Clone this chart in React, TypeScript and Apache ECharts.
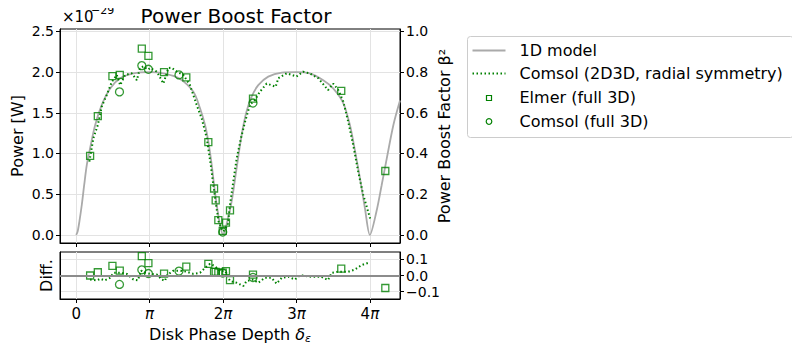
import React, { useEffect, useRef } from "react";
import * as echarts from "echarts";

// x values are in units of pi (Disk Phase Depth / pi); P in units of 1e-29 W
const model1dX = [0, 0.02, 0.045, 0.077, 0.109, 0.145, 0.19, 0.259, 0.35, 0.463, 0.6, 0.78, 1.0, 1.2, 1.4, 1.596, 1.687, 1.755, 1.8, 1.846, 1.878, 1.914, 1.96, 2.0, 2.04, 2.117, 2.185, 2.254, 2.32, 2.39, 2.48, 2.616, 2.8, 3.0, 3.18, 3.365, 3.5, 3.637, 3.728, 3.8, 3.864, 3.932, 4.0, 4.09, 4.16, 4.23, 4.32, 4.41];
const model1dP = [0, 0.04, 0.17, 0.37, 0.61, 0.86, 1.065, 1.35, 1.6, 1.8, 1.925, 1.985, 2.0, 1.983, 1.925, 1.76, 1.556, 1.35, 1.146, 0.86, 0.614, 0.37, 0.12, 0.0, 0.1, 0.41, 0.82, 1.23, 1.515, 1.7, 1.84, 1.945, 1.994, 2.0, 1.985, 1.9, 1.8, 1.62, 1.35, 1.02, 0.7, 0.33, 0.0, 0.29, 0.61, 0.94, 1.35, 1.65];

const radialX = [0.18, 0.235, 0.295, 0.35, 0.417, 0.486, 0.553, 0.6, 0.667, 0.758, 0.826, 0.87, 0.916, 0.98, 1.007, 1.098, 1.188, 1.256, 1.3, 1.37, 1.46, 1.55, 1.64, 1.71, 1.778, 1.833, 1.868, 1.905, 1.94, 1.98, 2.004, 2.064, 2.095, 2.14, 2.186, 2.245, 2.3, 2.367, 2.435, 2.503, 2.594, 2.717, 2.753, 2.866, 2.934, 3.0, 3.09, 3.18, 3.297, 3.43, 3.5, 3.57, 3.637, 3.705, 3.773, 3.84, 3.91, 4.01];
const radialP = [0.9, 1.19, 1.35, 1.58, 1.72, 1.88, 1.966, 1.84, 1.966, 1.985, 1.9, 2.05, 2.07, 2.03, 2.05, 2.007, 1.86, 2.05, 2.055, 2.007, 1.966, 1.84, 1.6, 1.43, 1.19, 0.86, 0.614, 0.37, 0.163, 0.08, 0.04, 0.12, 0.37, 0.655, 0.94, 1.19, 1.39, 1.6, 1.66, 1.76, 1.86, 1.82, 1.925, 1.985, 1.966, 1.945, 2.006, 1.985, 1.925, 1.78, 1.86, 1.78, 1.64, 1.39, 1.105, 0.78, 0.49, 0.18];

const elmerX = [0.19, 0.295, 0.494, 0.594, 0.894, 0.984, 1.197, 1.5, 1.8, 1.878, 1.9, 1.936, 1.996, 2.04, 2.095, 2.408, 3.61, 4.21];
const elmerP = [0.97, 1.46, 1.95, 1.965, 2.29, 2.2, 2.0, 1.935, 1.14, 0.57, 0.425, 0.18, 0.05, 0.15, 0.3, 1.675, 1.77, 0.785];
const elmerDiff = [0.0, 0.02, 0.06, 0.03, 0.12, 0.076, 0.012, 0.055, 0.072, 0.022, 0.022, 0.018, 0.018, 0.027, -0.028, 0.006, 0.043, -0.077];

const comsol3dX = [0.59, 0.894, 0.984, 1.4, 1.996, 2.408];
const comsol3dP = [1.757, 2.08, 2.035, 1.966, 0.035, 1.62];
const comsol3dDiff = [-0.055, 0.035, 0.012, 0.027, 0.015, -0.012];

const radialDiffX = [0.19, 0.28, 0.33, 0.39, 0.46, 0.51, 0.6, 0.69, 0.78, 0.84, 0.884, 0.94, 1.007, 1.098, 1.166, 1.21, 1.234, 1.32, 1.415, 1.506, 1.596, 1.687, 1.755, 1.823, 1.89, 1.96, 2.03, 2.095, 2.186, 2.277, 2.32, 2.41, 2.48, 2.57, 2.66, 2.73, 2.8, 2.89, 2.98, 3.05, 3.21, 3.34, 3.43, 3.48, 3.57, 3.705, 3.796, 3.887, 3.977];
const radialDiff = [-0.025, -0.03, -0.02, -0.03, -0.015, 0.017, 0.017, 0.01, -0.025, -0.03, 0.03, 0.017, 0.01, 0.006, -0.025, -0.033, 0.0, 0.029, 0.03, 0.023, 0.01, 0.017, 0.047, 0.072, 0.058, 0.027, 0.027, -0.034, -0.045, -0.065, -0.034, -0.025, -0.045, -0.014, -0.014, -0.05, -0.014, -0.008, -0.025, 0.002, -0.008, -0.008, -0.028, 0.017, 0.023, 0.023, 0.037, 0.064, 0.078];

const xTicks = [0, 1, 2, 3, 4];
const powerTicks = [0, 0.5, 1.0, 1.5, 2.0, 2.5];
const boostTicks = [0, 0.2, 0.4, 0.6, 0.8, 1.0];
const diffTicks = [-0.1, 0, 0.1];

const FONT = "DejaVu Sans";
const GREEN = "#008000";
const GRID_COLOR = "#e3e3e3";
const TICK_FS = 14;

const zip = (xs: number[], ys: number[]) => xs.map((x, i) => [x, ys[i]]);

const piLabel = (v: number) => {
  if (Math.abs(v) < 1e-9) return "0";
  if (Math.abs(v - 1) < 1e-9) return "{i|π}";
  return `${Math.round(v)}{i|π}`;
};

export default function App() {
  const ref = useRef<HTMLDivElement>(null);
  useEffect(() => {
    if (!ref.current) return;
    const chart = echarts.init(ref.current, undefined, { renderer: "svg" });
    const baseText = { fontFamily: FONT, color: "#000" };
    const xAxisCommon = {
      type: "value",
      min: -0.22,
      max: 4.41,
      axisLine: { show: true, onZero: false, lineStyle: { color: "#000", width: 1 } },
      axisTick: { show: true, customValues: xTicks, length: 4, lineStyle: { color: "#000" } },
      splitLine: { show: true, lineStyle: { color: GRID_COLOR, width: 1 } },
    };
    const option: any = {
      animation: false,
      backgroundColor: "#fff",
      title: {
        text: "Power Boost Factor",
        left: 231,
        top: 1,
        textAlign: "center",
        textStyle: { ...baseText, fontSize: 20, fontWeight: "normal" },
      },
      grid: [
        { left: 60, top: 29, width: 340, height: 214, show: true, borderColor: "#000", borderWidth: 1, backgroundColor: "transparent" },
        { left: 60, top: 252, width: 340, height: 47, show: true, borderColor: "#000", borderWidth: 1, backgroundColor: "transparent" },
      ],
      xAxis: [
        { ...xAxisCommon, gridIndex: 0, axisLabel: { show: false, customValues: xTicks } },
        {
          ...xAxisCommon,
          gridIndex: 1,
          axisLabel: {
            show: true,
            customValues: xTicks,
            formatter: piLabel,
            margin: 7,
            ...baseText,
            fontSize: 15,
            rich: { i: { fontFamily: FONT, fontStyle: "italic", fontSize: 15, color: "#000" } },
          },
          name: "Disk Phase Depth {d|δ}{e|ε}",
          nameLocation: "middle",
          nameGap: 25,
          nameTextStyle: {
            ...baseText,
            fontSize: 16,
            verticalAlign: "top",
            rich: {
              d: { fontFamily: FONT, fontStyle: "italic", fontSize: 16, color: "#000" },
              e: { fontFamily: FONT, fontStyle: "italic", fontSize: 11, color: "#000", padding: [9, 0, 0, 0] },
            },
          },
        },
      ],
      yAxis: [
        {
          type: "value",
          gridIndex: 0,
          position: "left",
          min: -0.1,
          max: 2.53,
          axisLine: { show: true, onZero: false, lineStyle: { color: "#000" } },
          axisTick: { show: true, customValues: powerTicks, length: 4, lineStyle: { color: "#000" } },
          axisLabel: { customValues: powerTicks, formatter: (v: number) => v.toFixed(1), ...baseText, fontSize: TICK_FS, margin: 6 },
          splitLine: { show: true, lineStyle: { color: GRID_COLOR, width: 1 } },
          name: "Power [W]",
          nameLocation: "middle",
          nameRotate: 90,
          nameGap: 35,
          nameTextStyle: { ...baseText, fontSize: 16 },
        },
        {
          type: "value",
          gridIndex: 0,
          position: "right",
          min: -0.04,
          max: 1.012,
          axisLine: { show: true, onZero: false, lineStyle: { color: "#000" } },
          axisTick: { show: true, customValues: boostTicks, length: 4, lineStyle: { color: "#000" } },
          axisLabel: { customValues: boostTicks, formatter: (v: number) => v.toFixed(1), ...baseText, fontSize: TICK_FS, margin: 6 },
          splitLine: { show: false },
          name: "Power Boost Factor β²",
          nameLocation: "middle",
          nameRotate: 90,
          nameGap: 36,
          nameTextStyle: { ...baseText, fontSize: 16 },
        },
        {
          type: "value",
          gridIndex: 1,
          position: "left",
          min: -0.145,
          max: 0.145,
          axisLine: { show: true, onZero: false, lineStyle: { color: "#000" } },
          axisTick: { show: false },
          axisLabel: { show: false },
          splitLine: { show: false },
          name: "Diff.",
          nameLocation: "middle",
          nameRotate: 90,
          nameGap: 6,
          nameTextStyle: { ...baseText, fontSize: 16 },
        },
        {
          type: "value",
          gridIndex: 1,
          position: "right",
          min: -0.145,
          max: 0.145,
          axisLine: { show: true, onZero: false, lineStyle: { color: "#000" } },
          axisTick: { show: true, customValues: diffTicks, length: 4, lineStyle: { color: "#000" } },
          axisLabel: {
            customValues: diffTicks,
            formatter: (v: number) => (Math.abs(v) < 1e-9 ? "0.0" : v > 0 ? v.toFixed(1) : "−" + Math.abs(v).toFixed(1)),
            ...baseText,
            fontSize: TICK_FS,
            lineHeight: 14,
            margin: 6,
          },
          splitLine: { show: true, lineStyle: { color: GRID_COLOR, width: 1 } },
        },
      ],
      series: [
        {
          name: "1D model",
          type: "line",
          xAxisIndex: 0,
          yAxisIndex: 0,
          data: zip(model1dX, model1dP),
          smooth: 0.3,
          symbol: "none",
          lineStyle: { color: "#aaaaaa", width: 1.8 },
          z: 2,
        },
        {
          name: "Comsol (2D3D, radial symmetry)",
          type: "line",
          xAxisIndex: 0,
          yAxisIndex: 0,
          data: zip(radialX, radialP),
          symbol: "none",
          lineStyle: { color: GREEN, width: 2, type: [1.5, 2.5] },
          z: 3,
        },
        {
          name: "Elmer (full 3D)",
          type: "scatter",
          xAxisIndex: 0,
          yAxisIndex: 0,
          data: zip(elmerX, elmerP),
          symbol: "rect",
          symbolSize: 7,
          itemStyle: { color: "rgba(0,0,0,0)", borderColor: GREEN, borderWidth: 1.3 },
          z: 4,
        },
        {
          name: "Comsol (full 3D)",
          type: "scatter",
          xAxisIndex: 0,
          yAxisIndex: 0,
          data: zip(comsol3dX, comsol3dP),
          symbol: "circle",
          symbolSize: 8,
          itemStyle: { color: "rgba(0,0,0,0)", borderColor: GREEN, borderWidth: 1.3 },
          z: 4,
        },
        {
          name: "Comsol (2D3D) diff",
          type: "line",
          xAxisIndex: 1,
          yAxisIndex: 3,
          data: zip(radialDiffX, radialDiff),
          symbol: "none",
          lineStyle: { color: GREEN, width: 2, type: [1.5, 2.5] },
          markLine: {
            silent: true,
            symbol: "none",
            label: { show: false },
            lineStyle: { color: "#8c8c8c", width: 2, type: "solid" },
            data: [{ yAxis: 0 }],
          },
          z: 3,
        },
        {
          name: "Elmer diff",
          type: "scatter",
          xAxisIndex: 1,
          yAxisIndex: 3,
          data: zip(elmerX, elmerDiff),
          symbol: "rect",
          symbolSize: 7,
          itemStyle: { color: "rgba(0,0,0,0)", borderColor: GREEN, borderWidth: 1.3 },
          z: 4,
        },
        {
          name: "Comsol 3D diff",
          type: "scatter",
          xAxisIndex: 1,
          yAxisIndex: 3,
          data: zip(comsol3dX, comsol3dDiff),
          symbol: "circle",
          symbolSize: 8,
          itemStyle: { color: "rgba(0,0,0,0)", borderColor: GREEN, borderWidth: 1.3 },
          z: 4,
        },
      ],
      graphic: [
        {
          type: "group",
          left: 62,
          top: 5,
          children: [
            { type: "text", x: 0, y: 4, style: { text: "×10", fontFamily: FONT, fontSize: 15, fill: "#000" } },
            { type: "text", x: 29, y: 0, style: { text: "−29", fontFamily: FONT, fontSize: 11, fill: "#000" } },
          ],
        },
        {
          type: "group",
          left: 467,
          top: 36,
          children: [
            { type: "rect", shape: { x: 0, y: 0, width: 326, height: 101, r: 3 }, style: { fill: "#fff", stroke: "#cccccc", lineWidth: 1 } },
            { type: "line", shape: { x1: 5, y1: 14, x2: 38, y2: 14 }, style: { stroke: "#aaaaaa", lineWidth: 1.8 } },
            { type: "text", x: 52, y: 14, style: { text: "1D model", fontFamily: FONT, fontSize: 16, fill: "#000", verticalAlign: "middle" } },
            { type: "line", shape: { x1: 5, y1: 37, x2: 38, y2: 37 }, style: { stroke: GREEN, lineWidth: 2, lineDash: [1.5, 2.5] } },
            { type: "text", x: 52, y: 37, style: { text: "Comsol (2D3D, radial symmetry)", fontFamily: FONT, fontSize: 16, fill: "#000", verticalAlign: "middle" } },
            { type: "rect", shape: { x: 19, y: 59, width: 5, height: 5 }, style: { fill: "none", stroke: GREEN, lineWidth: 1.2 } },
            { type: "text", x: 52, y: 61, style: { text: "Elmer (full 3D)", fontFamily: FONT, fontSize: 16, fill: "#000", verticalAlign: "middle" } },
            { type: "circle", shape: { cx: 21.5, cy: 85, r: 2.8 }, style: { fill: "none", stroke: GREEN, lineWidth: 1.2 } },
            { type: "text", x: 52, y: 85, style: { text: "Comsol (full 3D)", fontFamily: FONT, fontSize: 16, fill: "#000", verticalAlign: "middle" } },
          ],
        },
      ],
    };
    chart.setOption(option);
    return () => chart.dispose();
  }, []);
  return <div ref={ref} style={{ width: 800, height: 351, margin: -8 }} />;
}
